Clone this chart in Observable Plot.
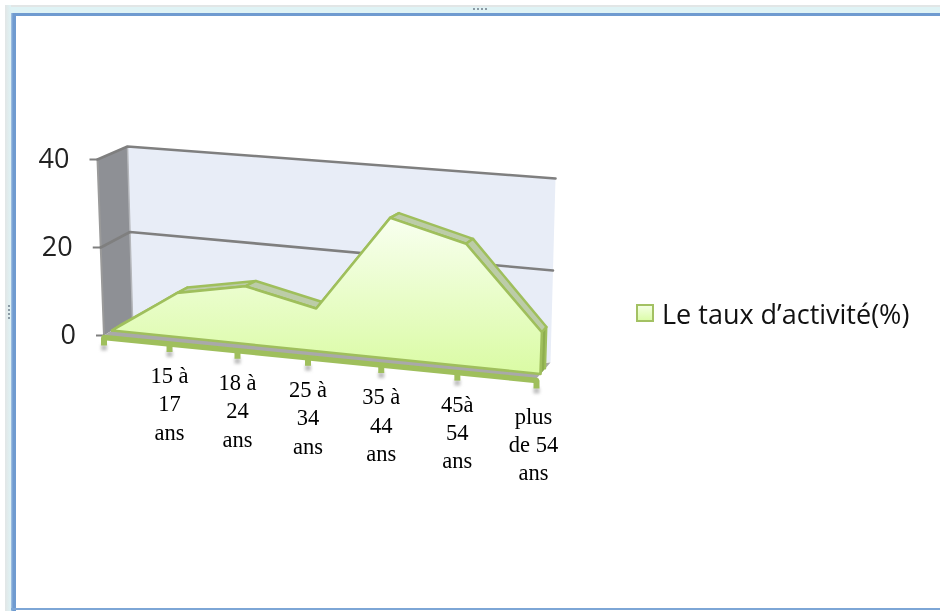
<!DOCTYPE html>
<html lang="fr">
<head>
<meta charset="utf-8">
<script src="https://cdn.jsdelivr.net/npm/d3@7"></script>
<script src="https://cdn.jsdelivr.net/npm/@observablehq/plot@0.6"></script>
<style>
html,body{margin:0;padding:0;background:#fff;width:940px;height:611px;overflow:hidden}
#wrap{position:relative;width:940px;height:611px;overflow:hidden}
#wrap svg{position:absolute;left:0;top:0;filter:blur(.45px)}
.fr{position:absolute}
#legend{position:absolute;left:636px;top:297px;display:flex;align-items:center;height:32px;font:27px "Open Sans",sans-serif;color:#111;white-space:nowrap;filter:blur(.4px)}
#legend i{display:block;width:14px;height:14px;border:2px solid #a3c163;background:linear-gradient(#f3ffe2,#dcfcaa);margin-right:8px}
</style>
</head>
<body>
<div id="wrap">
  <div class="fr" style="left:5px;top:5px;width:935px;height:2px;background:#e2e6e6"></div>
  <div class="fr" style="left:5px;top:7px;width:935px;height:6px;background:#dff3f5"></div>
  <div class="fr" style="left:5px;top:5px;width:6px;height:606px;background:linear-gradient(90deg,#e2e6e6,#dff3f5)"></div>
  <div class="fr" style="left:11px;top:13px;width:929px;height:3px;background:#6f9bd0"></div>
  <div class="fr" style="left:11px;top:13px;width:5px;height:598px;background:linear-gradient(90deg,#a9c6e4,#6f9bd0 40%)"></div>
  <div class="fr" style="left:11px;top:608px;width:929px;height:2px;background:#7da6d6"></div>
  <div class="fr" style="left:473px;top:8px;width:14px;height:2px;background:repeating-linear-gradient(90deg,#8a9aa5 0 2px,transparent 2px 4px)"></div>
  <div class="fr" style="left:8px;top:305px;width:2px;height:14px;background:repeating-linear-gradient(0deg,#8a9aa5 0 2px,transparent 2px 4px)"></div>
  <div id="legend"><i></i><span id="legendText"></span></div>
</div>
<script>
// Data
const categories = ["", "15 à\n17\nans", "18 à\n24\nans", "25 à\n34\nans", "35 à\n44\nans", "45à\n54\nans", "plus\nde 54\nans"];
const rates = [0, 10, 13, 9.5, 31, 26.7, 9];
const yTicks = [0, 20, 40];
const legendLabel = "Le taux d’activité(%)";

// Perspective of the 3-D box: (category index, value, depth) -> picture coordinates
const W = 940, H = 611, maxV = 40, lastU = categories.length - 1;
const box = {
  front: {bl: [103.5, 335], br: [536, 378], tl: [97, 159], tr: [543, 192]},
  back:  {bl: [132, 317], br: [550, 362], tl: [127, 146], tr: [555, 178]}
};
const lerp = (a, b, t) => a + (b - a) * t;
function project(u, v, d) {
  const k = 1.12 - 0.08 * d;
  const s = u / lastU, t = s / (s + k * (1 - s)), w = v / maxV;
  const face = f => [0, 1].map(i => lerp(lerp(f.bl[i], f.br[i], t), lerp(f.tl[i], f.tr[i], t), w));
  const a = face(box.front), b = face(box.back);
  return {x: lerp(a[0], b[0], d), y: lerp(a[1], b[1], d)};
}
const poly = (corners, options) =>
  Plot.line(corners.map(c => project(...c)), {x: "x", y: "y", strokeLinejoin: "round", ...options});

const dFront = 0.28, dBack = 0.62;
const idx = rates.map((_, i) => i);
const ridge = d => idx.map(i => [i, rates[i], d]);
const GREEN = "#9fbf5c", GRID = "#7f7f7f";

document.getElementById("legendText").textContent = legendLabel;

const defs = () => {
  const s = d3.create("svg:defs");
  const a = s.append("linearGradient").attr("id", "areaFill").attr("x1", 0).attr("y1", 0).attr("x2", 0).attr("y2", 1);
  a.append("stop").attr("offset", "0").attr("stop-color", "#f8ffef");
  a.append("stop").attr("offset", "1").attr("stop-color", "#dafba4");
  return s.node();
};

// Extruded top strip, one quad per segment
const strips = idx.slice(0, -1).map(i =>
  poly([[i, rates[i], dFront], [i + 1, rates[i + 1], dFront], [i + 1, rates[i + 1], dBack], [i, rates[i], dBack], [i, rates[i], dFront]],
    {fill: "#bccca8", stroke: GREEN, strokeWidth: 2.5}));

const chart = Plot.plot({
  width: W, height: H,
  margin: 0,
  x: {type: "identity", axis: null},
  y: {type: "identity", axis: null},
  style: {background: "transparent"},
  marks: [
    defs,
    // back wall
    poly([[0, 0, 1], [lastU, 0, 1], [lastU, maxV, 1], [0, maxV, 1]], {fill: "#e8edf7", stroke: "none"}),
    // left wall
    poly([[0, 0, 0], [0, 0, 1], [0, maxV, 1], [0, maxV, 0]], {fill: "#8e9095", stroke: "none"}),
    poly([[0, 0, 0], [0, maxV, 0]], {stroke: "#9a9a9a", strokeWidth: 2}),
    poly([[0, 0, 1], [0, maxV, 1]], {stroke: "#b5b7bb", strokeWidth: 1.5}),
    // gridlines with their ticks
    ...yTicks.filter(v => v > 0).map(v =>
      poly([[0, v, 0], [0, v, 1], [lastU, v, 1]], {stroke: GRID, strokeWidth: 2.6})),
    Plot.link(yTicks, {
      x1: v => project(0, v, 0).x - 8, y1: v => project(0, v, 0).y,
      x2: v => project(0, v, 0).x, y2: v => project(0, v, 0).y,
      stroke: GRID, strokeWidth: 2
    }),
    // floor
    poly([[0, 0, 0], [lastU, 0, 0], [lastU, 0, 1], [lastU - 0.4, 0, dBack], [0, 0, dFront]], {fill: "#a9a9a9", stroke: "none"}),
    // area: extruded strip, right side, front face
    ...strips,
    poly([[lastU, 0, dFront], [lastU, rates[lastU], dFront], [lastU, rates[lastU], dBack], [lastU, 0, dBack]],
      {fill: "#8eae4f", stroke: GREEN, strokeWidth: 2}),
    poly([...ridge(dFront), [lastU, 0, dFront], [0, 0, dFront]],
      {fill: "url(#areaFill)", stroke: GREEN, strokeWidth: 2.5}),
    // x axis line, tick shadows and ticks
    Plot.link(idx, {
      x1: i => project(i, 0, 0).x, y1: i => project(i, 0, 0).y + 9,
      x2: i => project(i, 0, 0).x, y2: i => project(i, 0, 0).y + 15,
      stroke: "#8c8c8c", strokeWidth: 6, strokeOpacity: 0.55, imageFilter: "blur(1.5px)"
    }),
    Plot.line(idx.filter(i => i === 0 || i === lastU).map(i => project(i, 0, 0)), {
      x: "x", y: d => d.y + 2, stroke: GREEN, strokeWidth: 5.5
    }),
    Plot.link(idx, {
      x1: i => project(i, 0, 0).x, y1: i => project(i, 0, 0).y + 2,
      x2: i => project(i, 0, 0).x, y2: i => project(i, 0, 0).y + 10,
      stroke: GREEN, strokeWidth: 6
    }),
    // y labels
    Plot.text(yTicks, {
      x: v => project(0, v, 0).x - 28, y: v => project(0, v, 0).y,
      text: String, textAnchor: "end", fontSize: 27, fontFamily: "Open Sans", fill: "#222"
    }),
    // x labels
    Plot.text(idx.slice(1), {
      x: i => project(i, 0, 0).x - (i === lastU ? 3 : 0),
      y: i => project(i, 0, 0).y + (i === lastU ? 25 : 21),
      text: i => categories[i], lineAnchor: "top", lineHeight: 1.26,
      fontSize: 22.5, fontFamily: "Liberation Serif", fill: "#000"
    })
  ]
});
document.getElementById("wrap").prepend(chart);
</script>
</body>
</html>
